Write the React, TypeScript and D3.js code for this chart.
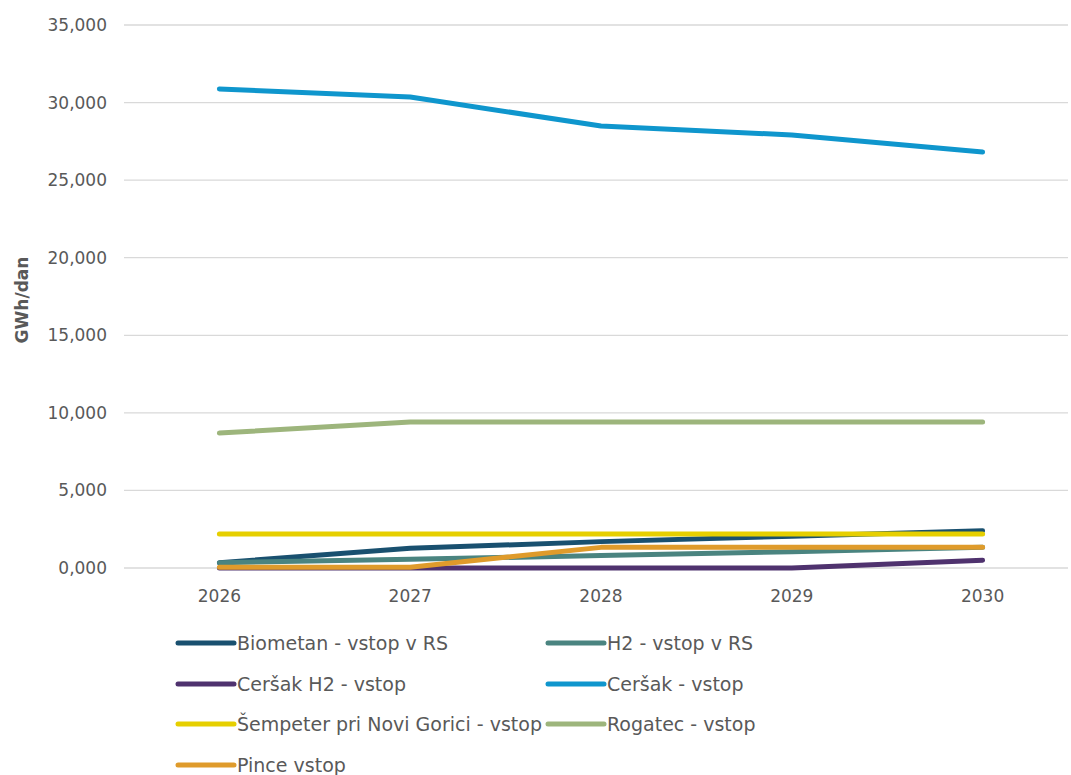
import React from "react";
import * as d3 from "d3";

const years = ["2026", "2027", "2028", "2029", "2030"];
const biometan = [340, 1270, 1700, 2050, 2400];
const h2 = [340, 560, 800, 1050, 1330];
const cersakH2 = [0, 0, 0, 0, 500];
const cersak = [30880, 30360, 28490, 27910, 26810];
const sempeter = [2190, 2190, 2190, 2190, 2190];
const rogatec = [8700, 9410, 9410, 9410, 9410];
const pince = [50, 50, 1330, 1330, 1330];
const yTicks = [0, 5000, 10000, 15000, 20000, 25000, 30000, 35000];

const series = [
  { name: "Biometan - vstop v RS", values: biometan, color: "#19506f" },
  { name: "H2 - vstop v RS", values: h2, color: "#4a8480" },
  { name: "Ceršak H2 - vstop", values: cersakH2, color: "#4f326e" },
  { name: "Ceršak - vstop", values: cersak, color: "#0f96cd" },
  { name: "Šempeter pri Novi Gorici - vstop", values: sempeter, color: "#e6cf00" },
  { name: "Rogatec - vstop", values: rogatec, color: "#9db57c" },
  { name: "Pince vstop", values: pince, color: "#df9b2b" },
];

const W = 1071, H = 775;
const FONT = "'DejaVu Sans', sans-serif";

export default function App() {
  const x = d3.scaleBand().domain(years).range([124, 1078]);
  const y = d3.scaleLinear().domain([0, 35000]).range([568, 25]);
  const tickLabel = (v: number) => (v === 0 ? "0,000" : d3.format(",")(v));
  const line = d3
    .line<number>()
    .x((_, i) => (x(years[i]) as number) + x.bandwidth() / 2)
    .y((v) => y(v));
  const legendCols = [178, 548];
  const legendRows = [643, 684, 724, 765];
  return (
    <svg width={W} height={H} style={{ position: "absolute", left: 0, top: 0 }} fontFamily={FONT}>
      <rect width={W} height={H} fill="#fff" />
      {yTicks.map((t) => (
        <g key={t}>
          <line x1={124} x2={1068} y1={y(t)} y2={y(t)} stroke="#d9d9d9" strokeWidth={1.3} />
          <text x={107} y={y(t)} dy="0.35em" textAnchor="end" fontSize={17} fill="#595959">
            {tickLabel(t)}
          </text>
        </g>
      ))}
      {years.map((yr) => (
        <text
          key={yr}
          x={(x(yr) as number) + x.bandwidth() / 2}
          y={602}
          textAnchor="middle"
          fontSize={17}
          fill="#595959"
        >
          {yr}
        </text>
      ))}
      <text
        transform={`translate(28,300) rotate(-90)`}
        textAnchor="middle"
        fontSize={17}
        fontWeight="bold"
        fill="#595959"
      >
        GWh/dan
      </text>
      {series.map((s) => (
        <path
          key={s.name}
          d={line(s.values) as string}
          fill="none"
          stroke={s.color}
          strokeWidth={5}
          strokeLinecap="round"
          strokeLinejoin="round"
        />
      ))}
      {series.map((s, i) => {
        const lx = legendCols[i % 2];
        const ly = legendRows[Math.floor(i / 2)];
        return (
          <g key={s.name}>
            <line x1={lx} x2={lx + 56} y1={ly} y2={ly} stroke={s.color} strokeWidth={5} strokeLinecap="round" />
            <text x={lx + 59} y={ly} dy="0.35em" fontSize={19} fill="#595959">
              {s.name}
            </text>
          </g>
        );
      })}
    </svg>
  );
}
